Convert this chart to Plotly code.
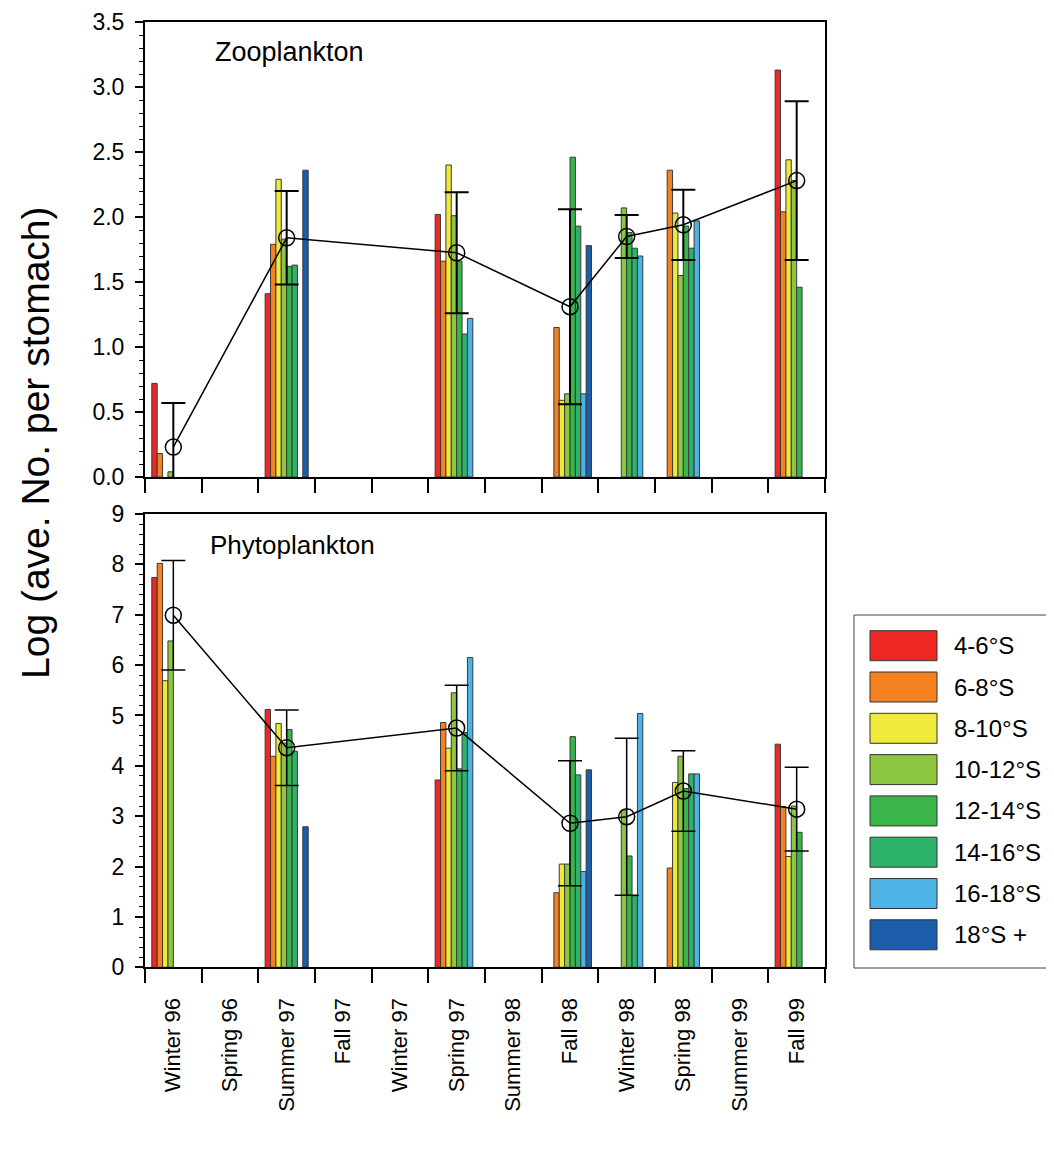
import plotly.graph_objects as go

W, H = 1054, 1149
OFF = 8  # default page margin of the html body
FW, FH = W - 2 * OFF, H - 2 * OFF

categories = ["Winter 96", "Spring 96", "Summer 97", "Fall 97", "Winter 97", "Spring 97",
              "Summer 98", "Fall 98", "Winter 98", "Spring 98", "Summer 99", "Fall 99"]
series_names = ["4-6°S", "6-8°S", "8-10°S", "10-12°S", "12-14°S", "14-16°S", "16-18°S", "18°S +"]
colors = ["#EE2724", "#F58220", "#EEE93B", "#8DC63F", "#39B54A", "#2EB46A", "#4DB3E6", "#1C5DA9"]

N = None
# Zooplankton (log ave. no. per stomach)
zoo_4_6 = [0.72, N, 1.41, N, N, 2.02, N, N, N, N, N, 3.13]
zoo_6_8 = [0.18, N, 1.79, N, N, 1.66, N, 1.15, N, 2.36, N, 2.04]
zoo_8_10 = [N, N, 2.29, N, N, 2.40, N, 0.59, N, 2.03, N, 2.44]
zoo_10_12 = [0.04, N, 1.83, N, N, 2.01, N, 0.64, 2.07, 1.55, N, 2.28]
zoo_12_14 = [N, N, 1.62, N, N, 1.66, N, 2.46, 1.88, 1.93, N, 1.46]
zoo_14_16 = [N, N, 1.63, N, N, 1.10, N, 1.93, 1.76, 1.76, N, N]
zoo_16_18 = [N, N, N, N, N, 1.22, N, 0.64, 1.70, 1.97, N, N]
zoo_18p = [N, N, 2.36, N, N, N, N, 1.78, N, N, N, N]

# Phytoplankton
phy_4_6 = [7.74, N, 5.12, N, N, 3.72, N, N, N, N, N, 4.43]
phy_6_8 = [8.02, N, 4.19, N, N, 4.86, N, 1.48, N, 1.97, N, 3.19]
phy_8_10 = [5.69, N, 4.84, N, N, 4.35, N, 2.05, N, 3.67, N, 2.20]
phy_10_12 = [6.48, N, 4.45, N, N, 5.45, N, 2.05, 3.12, 4.19, N, 3.20]
phy_12_14 = [N, N, 4.72, N, N, 3.94, N, 4.58, 2.21, 3.55, N, 2.68]
phy_14_16 = [N, N, 4.29, N, N, 4.66, N, 3.82, 1.42, 3.84, N, N]
phy_16_18 = [N, N, N, N, N, 6.15, N, 1.90, 5.04, 3.84, N, N]
phy_18p = [N, N, 2.79, N, N, N, N, 3.92, N, N, N, N]

# Seasonal means with error (SD)
mean_seasons = ["Winter 96", "Summer 97", "Spring 97", "Fall 98", "Winter 98", "Spring 98", "Fall 99"]
zoo_mean = [0.23, 1.84, 1.725, 1.31, 1.85, 1.94, 2.28]
zoo_err = [0.34, 0.36, 0.465, 0.75, 0.165, 0.27, 0.61]
phy_mean = [6.99, 4.36, 4.75, 2.86, 2.99, 3.50, 3.14]
phy_err = [1.085, 0.75, 0.85, 1.24, 1.56, 0.80, 0.83]

zoo_series = [zoo_4_6, zoo_6_8, zoo_8_10, zoo_10_12, zoo_12_14, zoo_14_16, zoo_16_18, zoo_18p]
phy_series = [phy_4_6, phy_6_8, phy_8_10, phy_10_12, phy_12_14, phy_14_16, phy_16_18, phy_18p]

xidx = list(range(len(categories)))
mean_x = [categories.index(s) for s in mean_seasons]

FONT = "Liberation Sans, Arial, sans-serif"


def px(x):
    return (x - OFF) / FW


def py(y):
    return 1 - (y - OFF) / FH


fig = go.Figure()

for series, xa, ya in [(zoo_series, "x", "y"), (phy_series, "x2", "y2")]:
    for name, vals, col in zip(series_names, series, colors):
        fig.add_trace(go.Bar(x=xidx, y=vals, name=name,
                             marker=dict(color=col, line=dict(color="#3a3a3a", width=1)),
                             xaxis=xa, yaxis=ya, showlegend=False))

fig.add_trace(go.Scatter(x=mean_x, y=zoo_mean, mode="lines+markers", xaxis="x", yaxis="y",
                         line=dict(color="black", width=1.5),
                         marker=dict(symbol="circle-open", size=16, color="black", line=dict(width=1.5)),
                         error_y=dict(type="data", array=zoo_err, color="black", thickness=2, width=12),
                         showlegend=False))
fig.add_trace(go.Scatter(x=mean_x, y=phy_mean, mode="lines+markers", xaxis="x2", yaxis="y2",
                         line=dict(color="black", width=1.5),
                         marker=dict(symbol="circle-open", size=16, color="black", line=dict(width=1.5)),
                         error_y=dict(type="data", array=phy_err, color="black", thickness=1.5, width=12),
                         showlegend=False))

top_dom = [py(477), py(22)]
bot_dom = [py(967.3), py(514)]
x_dom = [px(145), px(825)]

bounds = [i - 0.5 for i in range(len(categories) + 1)]
xcommon = dict(range=[-0.5, 11.5], showline=True, linecolor="black", linewidth=2, mirror=True,
               showgrid=False, zeroline=False, tickmode="array", tickvals=xidx, ticktext=categories,
               ticks="", tickangle=-90, automargin=False,
               tickfont=dict(family=FONT, size=22, color="black"),
               minor=dict(tickmode="array", tickvals=bounds, ticks="outside", ticklen=14,
                          tickwidth=1.5, tickcolor="black"))
ycommon = dict(showline=True, linecolor="black", linewidth=2, mirror=True, showgrid=False, zeroline=False,
               ticks="outside", ticklen=8, tickwidth=1.5, tickcolor="black", automargin=False,
               ticklabelstandoff=6, tickfont=dict(family=FONT, size=23, color="black"))

fig.update_layout(
    width=FW, height=FH, margin=dict(l=0, r=0, t=0, b=0, autoexpand=False),
    paper_bgcolor="white", plot_bgcolor="white",
    barmode="group", bargap=0.24, bargroupgap=0,
    showlegend=False,
    xaxis=dict(**xcommon, domain=x_dom, anchor="y", showticklabels=False),
    xaxis2=dict(**xcommon, domain=x_dom, anchor="y2", showticklabels=True, ticklabelstandoff=20),
    yaxis=dict(**ycommon, domain=top_dom, anchor="x", range=[0, 3.5], tick0=0, dtick=0.5, tickformat=".1f",
               minor=dict(dtick=0.1, ticks="outside", ticklen=4, tickwidth=1, tickcolor="black")),
    yaxis2=dict(**ycommon, domain=bot_dom, anchor="x2", range=[0, 9], tick0=0, dtick=1,
                minor=dict(dtick=0.2, ticks="outside", ticklen=4, tickwidth=1, tickcolor="black")),
)

annotations = [
    dict(text="Zooplankton", x=px(213), y=py(52), xref="paper", yref="paper", xanchor="left",
         yanchor="middle", showarrow=False, font=dict(family=FONT, size=27, color="black")),
    dict(text="Phytoplankton", x=px(208), y=py(545), xref="paper", yref="paper", xanchor="left",
         yanchor="middle", showarrow=False, font=dict(family=FONT, size=26, color="black")),
    dict(text="Log (ave. No. per stomach)", x=px(35), y=py(443), xref="paper", yref="paper",
         xanchor="center", yanchor="middle", textangle=-90, showarrow=False,
         font=dict(family=FONT, size=39, color="black")),
]

# Custom legend (large swatches)
shapes = [dict(type="rect", xref="paper", yref="paper", x0=px(854), x1=px(1070), y0=py(968), y1=py(615),
               line=dict(color="#444", width=1), fillcolor="white", layer="below")]
for i, (name, col) in enumerate(zip(series_names, colors)):
    top = 630.7 + 41.3 * i
    shapes.append(dict(type="rect", xref="paper", yref="paper", x0=px(870), x1=px(937),
                       y0=py(top + 30), y1=py(top), fillcolor=col,
                       line=dict(color="#333", width=1)))
    annotations.append(dict(text=name, x=px(952), y=py(top + 15), xref="paper", yref="paper",
                            xanchor="left", yanchor="middle", showarrow=False,
                            font=dict(family=FONT, size=24, color="black")))

fig.update_layout(annotations=annotations, shapes=shapes)
fig.write_html("out.html")
